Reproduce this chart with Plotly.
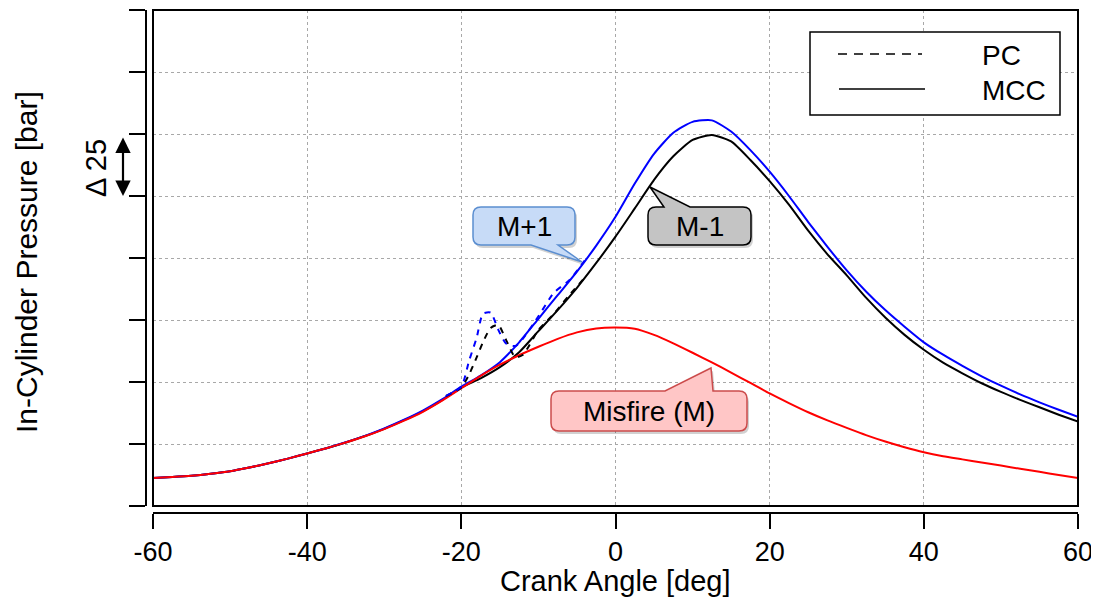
import plotly.graph_objects as go

# ---------------- data ----------------
crank_deg = [-60, -57.5, -55, -52.5, -50, -47.5, -45, -42.5, -40, -37.5, -35, -32.5, -30, -27.5, -25, -22.5,
             -20, -17.5, -15, -12.5, -10, -7.5, -5, -2.5, 0, 2.5, 5, 7.5, 10, 12.5, 15, 17.5,
             20, 22.5, 25, 27.5, 30, 32.5, 35, 37.5, 40, 42.5, 45, 47.5, 50, 52.5, 55, 57.5, 60]
misfire_bar = [11.3, 11.7, 12.2, 13.0, 14.0, 15.5, 17.2, 19.1, 21.2, 23.3, 25.6, 28.1, 31.0, 34.3, 38.0, 42.5,
               47.5, 52.5, 57.0, 60.8, 64.2, 67.4, 70.0, 71.6, 72.0, 71.5, 69.0, 65.6, 61.8, 57.9, 53.8, 49.6,
               45.4, 41.5, 37.8, 34.5, 31.5, 28.6, 26.0, 23.7, 21.7, 20.1, 18.8, 17.5, 16.3, 15.0, 13.8, 12.5, 11.3]
m_plus1_mcc_bar = [11.3, 11.7, 12.2, 13.0, 14.0, 15.5, 17.2, 19.1, 21.2, 23.3, 25.7, 28.3, 31.3, 34.7, 38.5, 43.0,
                   48.1, 52.6, 58.0, 66.0, 75.5, 85.0, 94.5, 105.0, 116.6, 130.0, 142.0, 150.5, 154.9, 155.5, 151.0, 143.5,
                   134.8, 125.0, 114.5, 104.5, 95.0, 86.5, 79.0, 72.3, 66.0, 61.0, 56.5, 52.3, 48.5, 45.0, 41.8, 38.8, 36.0]
m_minus1_mcc_bar = [11.3, 11.7, 12.2, 13.0, 14.0, 15.5, 17.2, 19.1, 21.2, 23.3, 25.6, 28.2, 31.1, 34.5, 38.2, 42.7,
                    47.8, 51.5, 56.0, 62.0, 70.5, 79.0, 88.0, 98.0, 108.6, 120.0, 131.5, 141.0, 147.6, 149.6, 147.0, 139.5,
                    131.0, 121.5, 111.0, 101.5, 93.0, 84.0, 76.0, 69.0, 63.0, 57.8, 53.5, 49.5, 46.0, 42.8, 39.8, 36.8, 34.0]

crank_pc_deg = [-22, -20, -19, -18, -17.2, -16.2, -15.2, -14.2, -13, -12, -10, -8, -6, -4]
m_plus1_pc_bar = [44.4, 48.1, 58.5, 68.0, 77.5, 78.0, 71.0, 65.5, 64.5, 67.5, 76.5, 86.0, 91.0, 99.0]
m_minus1_pc_bar = [44.3, 47.8, 53.0, 60.0, 66.0, 71.8, 73.0, 67.0, 60.0, 61.0, 71.0, 77.5, 85.0, 92.0]

x_ticks = [-60, -40, -20, 0, 20, 40, 60]
y_ticks = [0, 25, 50, 75, 100, 125, 150, 175, 200]

legend_labels = ["PC", "MCC"]
callout_labels = ["M+1", "M-1", "Misfire (M)"]

FONT = "Liberation Sans, Arial, sans-serif"

# ---------------- layout geometry ----------------
# The page body adds an 8px margin, so the figure is sized/positioned in page pixels minus 8.
OFF = 8
W, H = 1099 - OFF, 598 - OFF
ML = 146 - OFF               # y-axis line position (page x = 146)
MT = 10 - OFF                # plot top (page y = 10)
MR = W - (1078 - OFF)        # plot right (page x = 1078)
MB = H - (513 - OFF)         # x-axis line (page y = 513)
PW = W - ML - MR
PH = H - MT - MB


def P(px, py):
    """page pixel -> paper coords"""
    fx, fy = px - OFF, py - OFF
    return (fx - ML) / PW, (H - MB - fy) / PH


def pt(px, py):
    x, y = P(px, py)
    return f"{x:.5f},{y:.5f}"


def callout_path(x0, y0, x1, y1, r, side, bxa, bxb, tx, ty, dx=0, dy=0):
    x0 += dx; x1 += dx; bxa += dx; bxb += dx; tx += dx
    y0 += dy; y1 += dy; ty += dy
    s = f"M {pt(x0 + r, y0)}"
    if side == "top":
        s += f" L {pt(bxa, y0)} L {pt(tx, ty)} L {pt(bxb, y0)}"
    s += f" L {pt(x1 - r, y0)} Q {pt(x1, y0)} {pt(x1, y0 + r)}"
    s += f" L {pt(x1, y1 - r)} Q {pt(x1, y1)} {pt(x1 - r, y1)}"
    if side == "bottom":
        s += f" L {pt(bxb, y1)} L {pt(tx, ty)} L {pt(bxa, y1)}"
    s += f" L {pt(x0 + r, y1)} Q {pt(x0, y1)} {pt(x0, y1 - r)}"
    s += f" L {pt(x0, y0 + r)} Q {pt(x0, y0)} {pt(x0 + r, y0)} Z"
    return s


fig = go.Figure()

fig.add_trace(go.Scatter(x=crank_deg, y=m_minus1_mcc_bar, mode="lines",
                         line=dict(color="#000000", width=2, shape="spline", smoothing=0.6),
                         showlegend=False))
fig.add_trace(go.Scatter(x=crank_deg, y=m_plus1_mcc_bar, mode="lines",
                         line=dict(color="#0000ff", width=2, shape="spline", smoothing=0.6),
                         showlegend=False))
fig.add_trace(go.Scatter(x=crank_deg, y=misfire_bar, mode="lines",
                         line=dict(color="#ff0000", width=2, shape="spline", smoothing=0.6),
                         showlegend=False))
fig.add_trace(go.Scatter(x=crank_pc_deg, y=m_minus1_pc_bar, mode="lines",
                         line=dict(color="#000000", width=2, dash="6px,6px", shape="spline", smoothing=0.6),
                         showlegend=False))
fig.add_trace(go.Scatter(x=crank_pc_deg, y=m_plus1_pc_bar, mode="lines",
                         line=dict(color="#0000ff", width=2, dash="6px,6px", shape="spline", smoothing=0.6),
                         showlegend=False))

shapes = []
annotations = []

# plot frame
shapes.append(dict(type="rect", xref="x domain", yref="y domain", x0=0, x1=1, y0=0, y1=1,
                   line=dict(color="black", width=2), layer="above"))

# callouts: (label, box, pointer, fill, border)  -- page pixels
callouts = [
    (callout_labels[0], (473, 207, 575, 245), ("bottom", 531, 558, 582, 262), "#c7dbf7", "#5b8ed0"),
    (callout_labels[1], (648, 207, 751, 245), ("top", 664, 690, 650, 187), "#c4c4c4", "#000000"),
    (callout_labels[2], (551, 391, 747, 431), ("top", 665, 713, 711, 368), "#ffc6c6", "#cc4c4c"),
]
for label, (bx0, by0, bx1, by1), (side, ba, bb, tx, ty), fill, border in callouts:
    shapes.append(dict(type="path", xref="paper", yref="paper",
                       path=callout_path(bx0, by0, bx1, by1, 8, side, ba, bb, tx, ty, dx=2, dy=3),
                       fillcolor="rgba(0,0,0,0.18)", line=dict(width=0), layer="above"))
    shapes.append(dict(type="path", xref="paper", yref="paper",
                       path=callout_path(bx0, by0, bx1, by1, 8, side, ba, bb, tx, ty),
                       fillcolor=fill, line=dict(color=border, width=1.5), layer="above"))
    cx, cy = P((bx0 + bx1) / 2, (by0 + by1) / 2)
    annotations.append(dict(x=cx, y=cy, xref="paper", yref="paper", text=label, showarrow=False,
                            font=dict(family=FONT, size=28, color="black"),
                            xanchor="center", yanchor="middle"))

# manual legend
lx0, ly0 = P(810, 32)
lx1, ly1 = P(1060, 115)
shapes.append(dict(type="rect", xref="paper", yref="paper", x0=lx0, x1=lx1, y0=ly1, y1=ly0,
                   fillcolor="white", line=dict(color="black", width=1.5), layer="above"))
a, b = P(838, 54)
c, _ = P(922, 54)
shapes.append(dict(type="line", xref="paper", yref="paper", x0=a, x1=c, y0=b, y1=b,
                   line=dict(color="black", width=1.5, dash="9px,7px"), layer="above"))
a, b = P(839, 89)
c, _ = P(925, 89)
shapes.append(dict(type="line", xref="paper", yref="paper", x0=a, x1=c, y0=b, y1=b,
                   line=dict(color="black", width=1.5), layer="above"))
for lab, yy in zip(legend_labels, [55, 91]):
    tx, ty = P(980, yy)
    annotations.append(dict(x=tx, y=ty, xref="paper", yref="paper", text=lab, showarrow=False,
                            font=dict(family=FONT, size=28, color="black"),
                            xanchor="left", yanchor="middle"))

# delta 25 marker
ax_, ay_ = P(123, 196)
annotations.append(dict(x=ax_, y=ay_, xref="paper", yref="paper", text="", showarrow=True,
                        ax=0, ay=-60, arrowside="end+start", arrowhead=2, startarrowhead=2,
                        arrowsize=1.4, startarrowsize=1.4, arrowwidth=2.2, arrowcolor="black",
                        standoff=0, startstandoff=0))
tx, ty = P(96, 168)
annotations.append(dict(x=tx, y=ty, xref="paper", yref="paper", text="Δ 25", showarrow=False,
                        textangle=-90, font=dict(family=FONT, size=29, color="black"),
                        xanchor="center", yanchor="middle"))

# axis titles
tx, ty = P(27, 262)
annotations.append(dict(x=tx, y=ty, xref="paper", yref="paper", text="In-Cylinder Pressure [bar]",
                        showarrow=False, textangle=-90, font=dict(family=FONT, size=30, color="black"),
                        xanchor="center", yanchor="middle"))
tx, ty = P(615, 581)
annotations.append(dict(x=tx, y=ty, xref="paper", yref="paper", text="Crank Angle [deg]",
                        showarrow=False, font=dict(family=FONT, size=29, color="black"),
                        xanchor="center", yanchor="middle"))

x_dom0 = (153 - 146) / PW
y_dom0 = (513 - 506) / PH

fig.update_layout(
    width=W, height=H,
    margin=dict(l=ML, r=MR, t=MT, b=MB, pad=0, autoexpand=False),
    paper_bgcolor="white", plot_bgcolor="white",
    showlegend=False,
    font=dict(family=FONT, color="black"),
    xaxis=dict(domain=[x_dom0, 1], anchor="free", position=0, range=[-60, 60], automargin=False,
               tickvals=x_ticks, ticktext=[str(v) for v in x_ticks],
               ticks="outside", ticklen=15, tickwidth=2, tickcolor="black",
               showline=True, linewidth=2, linecolor="black",
               showgrid=True, gridcolor="#a8a8a8", gridwidth=1, griddash="dot",
               zeroline=False, tickfont=dict(family=FONT, size=27, color="black")),
    yaxis=dict(domain=[y_dom0, 1], anchor="free", position=0, range=[0, 200], automargin=False,
               tickvals=y_ticks, showticklabels=False,
               ticks="outside", ticklen=16, tickwidth=2, tickcolor="black",
               showline=True, linewidth=2, linecolor="black",
               showgrid=True, gridcolor="#a8a8a8", gridwidth=1, griddash="dot",
               zeroline=False),
    shapes=shapes,
    annotations=annotations,
)

fig.write_html("out.html")
